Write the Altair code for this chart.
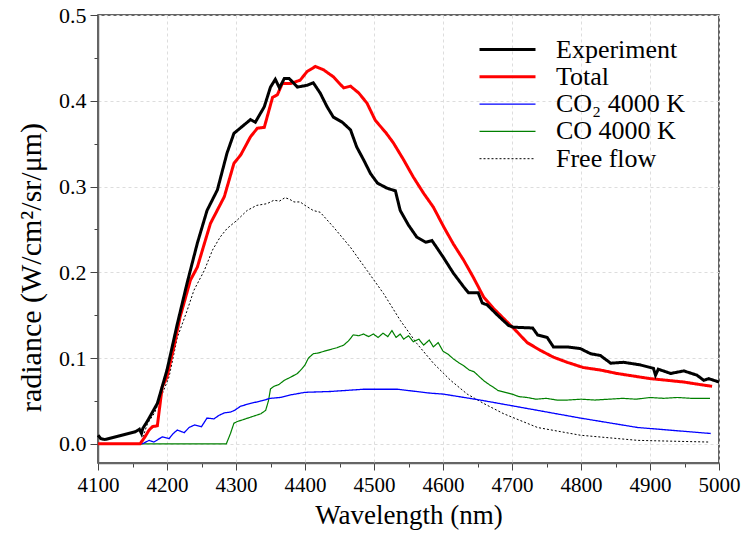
import altair as alt
import pandas as pd

series_names = ["Experiment", "Total", "CO₂ 4000 K", "CO 4000 K", "Free flow"]
series_colors = ["#000000", "#ff0000", "#0000ff", "#008000", "#000000"]
series_widths = [3, 3, 1.3, 1.2, 1]
series_dash = [[1, 0], [1, 0], [1, 0], [1, 0], [2, 2]]

exp_x = [4100, 4104, 4110, 4130, 4154, 4160, 4163, 4165, 4172, 4186,
         4200, 4215, 4229, 4244, 4258, 4273, 4287, 4297, 4312, 4321,
         4328, 4341, 4350, 4357, 4363, 4370, 4377, 4389, 4403, 4412,
         4422, 4432, 4441, 4454, 4466, 4475, 4485, 4495, 4505, 4519,
         4531, 4538, 4550, 4562, 4575, 4584, 4600, 4615, 4630, 4637,
         4651, 4657, 4664, 4679, 4695, 4702, 4730, 4737, 4751, 4760,
         4780, 4799, 4814, 4828, 4843, 4862, 4886, 4905, 4908, 4912,
         4930, 4949, 4968, 4978, 4985, 5000]
exp_y = [0.010, 0.006, 0.005, 0.009, 0.014, 0.017, 0.012, 0.018, 0.027, 0.047,
         0.086, 0.140, 0.187, 0.234, 0.272, 0.296, 0.339, 0.362, 0.372, 0.378,
         0.375, 0.393, 0.416, 0.425, 0.415, 0.426, 0.426, 0.416, 0.418, 0.421,
         0.409, 0.393, 0.381, 0.375, 0.366, 0.346, 0.331, 0.315, 0.304, 0.298,
         0.295, 0.272, 0.255, 0.241, 0.235, 0.237, 0.218, 0.199, 0.183, 0.176,
         0.176, 0.164, 0.162, 0.150, 0.138, 0.136, 0.135, 0.127, 0.124, 0.113,
         0.113, 0.111, 0.105, 0.103, 0.094, 0.095, 0.092, 0.088, 0.080, 0.087,
         0.082, 0.085, 0.080, 0.074, 0.076, 0.072]

tot_x = [4100, 4161, 4168, 4174, 4179, 4186, 4193, 4200, 4211, 4219,
         4234, 4244, 4254, 4263, 4283, 4297, 4307, 4321, 4331, 4341,
         4353, 4360, 4367, 4379, 4393, 4403, 4415, 4427, 4441, 4456,
         4466, 4478, 4490, 4502, 4517, 4528, 4543, 4557, 4572, 4586,
         4601, 4615, 4630, 4644, 4659, 4673, 4688, 4698, 4702, 4722,
         4741, 4760, 4780, 4803, 4828, 4852, 4876, 4900, 4925, 4949,
         4973, 4990]
tot_y = [0.0, 0.0, 0.008, 0.016, 0.020, 0.021, 0.066, 0.078, 0.117, 0.148,
         0.191, 0.206, 0.233, 0.257, 0.288, 0.327, 0.337, 0.358, 0.368, 0.369,
         0.404, 0.407, 0.420, 0.420, 0.424, 0.434, 0.440, 0.436, 0.428, 0.415,
         0.417, 0.409, 0.397, 0.377, 0.363, 0.351, 0.331, 0.311, 0.292, 0.276,
         0.253, 0.233, 0.214, 0.194, 0.171, 0.158, 0.146, 0.138, 0.135, 0.118,
         0.109, 0.101, 0.095, 0.089, 0.086, 0.082, 0.079, 0.076, 0.074, 0.072,
         0.069, 0.067]

co2_x = [4100, 4163, 4167, 4174, 4181, 4187, 4193, 4203, 4209, 4215,
         4225, 4232, 4240, 4250, 4258, 4268, 4275, 4283, 4292, 4298,
         4307, 4321, 4336, 4350, 4364, 4379, 4400, 4437, 4485, 4534,
         4582, 4600, 4654, 4737, 4799, 4882, 4988]
co2_y = [0.0, 0.0, 0.001, 0.004, 0.002, 0.005, 0.008, 0.006, 0.012, 0.016,
         0.013, 0.019, 0.022, 0.020, 0.030, 0.029, 0.033, 0.036, 0.037, 0.039,
         0.044, 0.047, 0.050, 0.053, 0.054, 0.057, 0.060, 0.061, 0.0636, 0.0636,
         0.059, 0.058, 0.051, 0.039, 0.030, 0.019, 0.012]

co_x = [4100, 4286, 4292, 4297, 4302, 4306, 4321, 4336, 4343, 4347,
        4350, 4355, 4362, 4370, 4380, 4389, 4395, 4400, 4405, 4412,
        4420, 4428, 4437, 4446, 4456, 4463, 4470, 4478, 4485, 4492,
        4499, 4506, 4513, 4520, 4526, 4532, 4538, 4543, 4550, 4557,
        4565, 4572, 4580, 4586, 4593, 4600, 4608, 4615, 4622, 4630,
        4638, 4645, 4653, 4660, 4667, 4673, 4680, 4690, 4700, 4710,
        4722, 4735, 4750, 4765, 4780, 4800, 4820, 4840, 4860, 4880,
        4900, 4920, 4940, 4960, 4987]
co_y = [0.0, 0.0, 0.012, 0.024, 0.026, 0.027, 0.031, 0.035, 0.039, 0.050,
        0.064, 0.067, 0.069, 0.074, 0.078, 0.082, 0.087, 0.092, 0.100, 0.105,
        0.106, 0.108, 0.110, 0.112, 0.115, 0.120, 0.127, 0.126, 0.128, 0.125,
        0.128, 0.124, 0.129, 0.125, 0.132, 0.124, 0.128, 0.122, 0.126, 0.119,
        0.122, 0.115, 0.121, 0.113, 0.118, 0.108, 0.104, 0.099, 0.095, 0.091,
        0.086, 0.084, 0.078, 0.073, 0.069, 0.066, 0.062, 0.060, 0.058, 0.055,
        0.054, 0.052, 0.053, 0.051, 0.051, 0.052, 0.051, 0.052, 0.053, 0.052,
        0.054, 0.053, 0.054, 0.053, 0.053]

ff_x = [4165, 4172, 4182, 4191, 4203, 4215, 4229, 4239, 4254, 4266,
        4277, 4287, 4302, 4316, 4330, 4345, 4355, 4363, 4371, 4378,
        4384, 4393, 4400, 4412, 4422, 4441, 4466, 4490, 4514, 4538,
        4562, 4586, 4611, 4635, 4659, 4688, 4737, 4799, 4882, 4987]
ff_y = [0.008, 0.024, 0.036, 0.054, 0.078, 0.124, 0.155, 0.179, 0.202, 0.226,
        0.241, 0.251, 0.261, 0.272, 0.278, 0.280, 0.284, 0.283, 0.287, 0.285,
        0.282, 0.282, 0.278, 0.272, 0.270, 0.253, 0.229, 0.202, 0.175, 0.144,
        0.117, 0.094, 0.074, 0.058, 0.047, 0.035, 0.019, 0.010, 0.004, 0.002]

x_ticks = [4100 + 50 * i for i in range(19)]
y_ticks = [round(0.05 * i, 2) for i in range(11)]

frames = []
for name, xs, ys in [("Free flow", ff_x, ff_y), ("CO 4000 K", co_x, co_y),
                     ("CO₂ 4000 K", co2_x, co2_y), ("Total", tot_x, tot_y),
                     ("Experiment", exp_x, exp_y)]:
    frames.append(pd.DataFrame({"wl": xs, "rad": ys, "series": name}))
df = pd.concat(frames, ignore_index=True)

FONT = "Liberation Serif, Times New Roman, Times, serif"

x_axis = alt.Axis(
    values=x_ticks,
    labelExpr="datum.value % 100 === 0 ? datum.label : ''",
    tickSize={"condition": {"test": "datum.value % 100 === 0", "value": 7}, "value": 4},
    gridOpacity={"condition": {"test": "datum.value % 100 === 0", "value": 1}, "value": 0},
    format="d",
    title="Wavelength (nm)",
    titleFontSize=27, titleFontWeight="normal", titleFont=FONT, titleColor="black",
    titleBaseline="alphabetic", titleY=60,
    labelFontSize=21, labelFont=FONT, labelColor="black", labelPadding=4,
    labelFlush=False,
)
y_axis = alt.Axis(
    values=y_ticks,
    labelExpr="abs(datum.value*10 - round(datum.value*10)) < 0.001 ? format(datum.value, '.1f') : ''",
    tickSize={"condition": {"test": "abs(datum.value*10 - round(datum.value*10)) < 0.001", "value": 8}, "value": 4},
    gridOpacity={"condition": {"test": "abs(datum.value*10 - round(datum.value*10)) < 0.001", "value": 1}, "value": 0},
    title="radiance (W/cm²/sr/μm)",
    titleFontSize=30, titleFontWeight="normal", titleFont=FONT, titleColor="black",
    titleBaseline="alphabetic", titleX=-58, titleY=252,
    labelFontSize=22, labelFont=FONT, labelColor="black", labelPadding=4,
    labelFlush=False,
)

chart = alt.Chart(df).mark_line(interpolate="linear").encode(
    x=alt.X("wl:Q", scale=alt.Scale(domain=[4100, 5000], nice=False, zero=False), axis=x_axis),
    y=alt.Y("rad:Q", scale=alt.Scale(domain=[-0.0224, 0.5], nice=False, zero=False), axis=y_axis),
    color=alt.Color("series:N", scale=alt.Scale(domain=series_names, range=series_colors),
                    legend=alt.Legend(title=None)),
    strokeWidth=alt.StrokeWidth("series:N",
                                scale=alt.Scale(type="ordinal", domain=series_names, range=series_widths),
                                legend=alt.Legend(title=None)),
    strokeDash=alt.StrokeDash("series:N", scale=alt.Scale(domain=series_names, range=series_dash),
                              legend=alt.Legend(title=None)),
).properties(
    width=621, height=448,
    autosize=alt.AutoSizeParams(type="none"),
    padding={"left": 98, "top": 15, "right": 22, "bottom": 74},
).configure(
    font=FONT,
).configure_view(
    stroke="#333333", strokeWidth=1.5,
).configure_axis(
    domainColor="#666666", domainWidth=1.5, tickColor="#444444",
    gridColor="#dddddd", gridDash=[3, 3], gridWidth=1,
).configure_legend(
    orient="none", legendX=380, legendY=21, padding=0,
    symbolType="stroke", symbolSize=3136, clipHeight=27,
    labelFont=FONT, labelFontSize=26, labelColor="black", labelOffset=19,
    rowPadding=0.3,
)

chart.save("out.html", embed_options={"renderer": "svg", "actions": False})
